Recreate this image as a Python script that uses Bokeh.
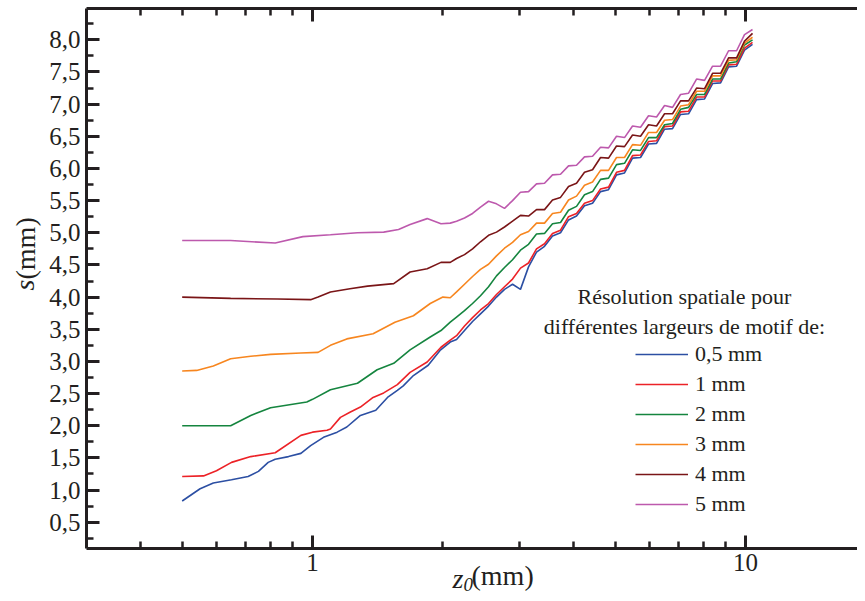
from bokeh.plotting import figure
from bokeh.models import (LogAxis, FixedTicker, SingleIntervalTicker, Title,
                          CustomJSTickFormatter, Label, Legend, LegendItem, Range1d)
from bokeh.embed import file_html
from bokeh.resources import INLINE

FONT = "Liberation Serif"
INK = "#231f20"

# ---------------- data ----------------
series_labels = ["0,5 mm", "1 mm", "2 mm", "3 mm", "4 mm", "5 mm"]
series_colors = ["#2c4fa3", "#ec2227", "#15853f", "#f7861f", "#7a1517", "#bd59ad"]

# common z0 grid for the oscillating upper part of every curve (mm)
z_upper = [2.151, 2.244, 2.342, 2.443, 2.550, 2.660, 2.776, 2.897, 3.022, 3.154,
           3.291, 3.434, 3.583, 3.739, 3.902, 4.071, 4.248, 4.433, 4.626, 4.827,
           5.036, 5.255, 5.484, 5.722, 5.971, 6.231, 6.502, 6.784, 7.079, 7.387,
           7.708, 8.043, 8.393, 8.758, 9.139, 9.536, 9.947, 10.38]

# 0,5 mm
z_lower_05 = [0.50, 0.55, 0.59, 0.65, 0.71, 0.75, 0.79, 0.82, 0.88, 0.94, 0.99, 1.06,
              1.14, 1.20, 1.29, 1.40, 1.49, 1.57, 1.62, 1.71, 1.85, 1.97, 2.08]
s_lower_05 = [0.83, 1.02, 1.11, 1.16, 1.21, 1.29, 1.43, 1.48, 1.52, 1.57, 1.69, 1.82,
              1.90, 1.98, 2.16, 2.24, 2.44, 2.55, 2.62, 2.78, 2.94, 3.17, 3.30]
s_upper_05 = [3.34, 3.48, 3.62, 3.74, 3.86, 4.00, 4.12, 4.20, 4.12, 4.47, 4.70, 4.79,
              4.95, 5.00, 5.20, 5.26, 5.42, 5.46, 5.64, 5.67, 5.90, 5.93, 6.16, 6.17,
              6.38, 6.39, 6.61, 6.62, 6.84, 6.85, 7.07, 7.08, 7.32, 7.33, 7.58, 7.59,
              7.84, 7.93]

# 1 mm
z_lower_1 = [0.50, 0.56, 0.60, 0.65, 0.72, 0.82, 0.94, 1.00, 1.08, 1.10, 1.16, 1.22,
             1.29, 1.38, 1.46, 1.57, 1.68, 1.84, 1.98, 2.08]
s_lower_1 = [1.21, 1.22, 1.30, 1.43, 1.52, 1.58, 1.85, 1.90, 1.93, 1.95, 2.13, 2.21,
             2.29, 2.44, 2.51, 2.64, 2.83, 2.99, 3.22, 3.33]
s_upper_1 = [3.40, 3.55, 3.68, 3.80, 3.90, 4.04, 4.16, 4.28, 4.45, 4.53, 4.75, 4.83,
             4.99, 5.04, 5.25, 5.30, 5.46, 5.50, 5.68, 5.71, 5.94, 5.97, 6.20, 6.21,
             6.42, 6.43, 6.65, 6.66, 6.88, 6.89, 7.11, 7.11, 7.36, 7.36, 7.61, 7.62,
             7.87, 7.96]

# 2 mm
z_lower_2 = [0.50, 0.647, 0.72, 0.80, 0.97, 1.00, 1.10, 1.27, 1.41, 1.54, 1.68, 1.87,
             1.98, 2.08]
s_lower_2 = [2.00, 2.00, 2.16, 2.28, 2.37, 2.41, 2.56, 2.66, 2.87, 2.97, 3.18, 3.38,
             3.48, 3.61]
s_upper_2 = [3.69, 3.79, 3.90, 4.02, 4.16, 4.33, 4.46, 4.58, 4.73, 4.82, 4.98, 4.99,
             5.14, 5.16, 5.35, 5.41, 5.59, 5.64, 5.83, 5.85, 6.06, 6.08, 6.29, 6.28,
             6.48, 6.48, 6.68, 6.70, 6.92, 6.95, 7.15, 7.15, 7.39, 7.39, 7.64, 7.66,
             7.92, 8.00]

# 3 mm
z_lower_3 = [0.50, 0.54, 0.59, 0.647, 0.72, 0.80, 0.94, 1.03, 1.10, 1.20, 1.38, 1.55,
             1.71, 1.87, 2.00, 2.08]
s_lower_3 = [2.85, 2.86, 2.93, 3.04, 3.08, 3.11, 3.13, 3.14, 3.25, 3.35, 3.43, 3.61,
             3.71, 3.90, 4.00, 3.99]
s_upper_3 = [4.08, 4.20, 4.32, 4.43, 4.51, 4.64, 4.76, 4.85, 4.97, 5.02, 5.15, 5.15,
             5.30, 5.32, 5.51, 5.57, 5.74, 5.79, 5.97, 5.97, 6.17, 6.17, 6.37, 6.36,
             6.56, 6.56, 6.75, 6.76, 6.97, 6.99, 7.20, 7.20, 7.44, 7.44, 7.68, 7.69,
             7.95, 8.04]

# 4 mm
z_lower_4 = [0.50, 0.647, 0.83, 0.99, 1.03, 1.10, 1.22, 1.34, 1.54, 1.68, 1.84, 1.98, 2.08]
s_lower_4 = [4.00, 3.98, 3.97, 3.96, 4.00, 4.08, 4.13, 4.17, 4.21, 4.39, 4.44, 4.54, 4.54]
s_upper_4 = [4.60, 4.66, 4.75, 4.86, 4.96, 5.01, 5.09, 5.18, 5.27, 5.26, 5.36, 5.36,
             5.51, 5.55, 5.72, 5.77, 5.94, 5.98, 6.17, 6.16, 6.35, 6.34, 6.52, 6.50,
             6.68, 6.66, 6.85, 6.85, 7.05, 7.05, 7.25, 7.24, 7.48, 7.48, 7.72, 7.72,
             7.98, 8.10]

# 5 mm
z_lower_5 = [0.50, 0.647, 0.82, 0.95, 1.10, 1.27, 1.46, 1.58, 1.68, 1.84, 1.98, 2.08]
s_lower_5 = [4.88, 4.88, 4.84, 4.94, 4.97, 5.00, 5.01, 5.05, 5.13, 5.22, 5.14, 5.15]
s_upper_5 = [5.18, 5.23, 5.30, 5.40, 5.49, 5.45, 5.38, 5.50, 5.63, 5.64, 5.76, 5.77,
             5.90, 5.91, 6.04, 6.05, 6.18, 6.19, 6.33, 6.32, 6.50, 6.48, 6.66, 6.64,
             6.82, 6.80, 6.98, 6.95, 7.15, 7.17, 7.39, 7.37, 7.59, 7.59, 7.83, 7.83,
             8.08, 8.16]

x_major_ticks = [1, 10]
x_minor_ticks = [0.4, 0.5, 0.6, 0.7, 0.8, 0.9, 2, 3, 4, 5, 6, 7, 8, 9, 20]
y_tick_step = 0.5

legend_title = ["Résolution spatiale pour", "différentes largeurs de motif de:"]

series_z = [z_lower_05 + z_upper, z_lower_1 + z_upper, z_lower_2 + z_upper,
            z_lower_3 + z_upper, z_lower_4 + z_upper, z_lower_5 + z_upper]
series_s = [s_lower_05 + s_upper_05, s_lower_1 + s_upper_1, s_lower_2 + s_upper_2,
            s_lower_3 + s_upper_3, s_lower_4 + s_upper_4, s_lower_5 + s_upper_5]

# ---------------- figure ----------------
p = figure(width=857, height=593, x_axis_type="log",
           x_range=Range1d(0.3006, 18.14), y_range=Range1d(0.091, 8.487),
           output_backend="svg", toolbar_location=None,
           min_border_left=86, min_border_right=0, min_border_top=8, min_border_bottom=45,
           background_fill_color="white", border_fill_color="white")
p.outline_line_color = None
p.grid.visible = False


def style_axis(ax):
    ax.axis_line_color = INK
    ax.axis_line_width = 3
    ax.major_tick_in = 13
    ax.major_tick_out = 0
    ax.minor_tick_in = 7
    ax.minor_tick_out = 0
    ax.major_tick_line_color = INK
    ax.major_tick_line_width = 3
    ax.minor_tick_line_color = INK
    ax.minor_tick_line_width = 2.5
    ax.major_label_text_font = FONT
    ax.major_label_text_font_size = "25px"
    ax.major_label_text_color = INK


xticker = FixedTicker(ticks=x_major_ticks, minor_ticks=x_minor_ticks)
yticker = SingleIntervalTicker(interval=y_tick_step, num_minor_ticks=2)

xa = p.xaxis[0]
xa.ticker = xticker
xa.formatter = CustomJSTickFormatter(code="return tick.toString();")
style_axis(xa)
xa.major_label_standoff = 5

ya = p.yaxis[0]
ya.ticker = yticker
ya.formatter = CustomJSTickFormatter(code="return tick.toFixed(1).replace('.', ',');")
style_axis(ya)
ya.major_label_standoff = 6

top = LogAxis(ticker=xticker, formatter=CustomJSTickFormatter(code="return '';"))
style_axis(top)
top.major_label_text_font_size = "0px"
top.major_label_standoff = 0
p.add_layout(top, "above")

renderers = []
for z, s, c in zip(series_z, series_s, series_colors):
    r = p.line(z, s, line_color=c, line_width=1.6)
    renderers.append(r)

legend = Legend(items=[LegendItem(label=l, renderers=[r]) for l, r in zip(series_labels, renderers)],
                location=(549, 29), border_line_color=None, background_fill_alpha=0,
                padding=0, margin=0, spacing=0, glyph_width=53, glyph_height=30,
                label_height=30, label_standoff=7, label_text_font=FONT,
                label_text_font_size="22px", label_text_color=INK)
p.add_layout(legend)

for i, t in enumerate(legend_title):
    p.add_layout(Label(x=598, y=252 - 30 * i, x_units="screen", y_units="screen", text=t,
                       text_font=FONT, text_font_size="22px", text_color=INK,
                       text_align="center", text_baseline="alphabetic"))


# ---- axis titles with mixed styles: z0(mm) below, s(mm) on the left ----
def title(text, size, style, offset, standoff, valign):
    return Title(text=text, align="left", offset=offset, standoff=standoff,
                 vertical_align=valign, text_font=FONT, text_font_size=size,
                 text_font_style=style, text_color=INK)


p.add_layout(title("z", "28px", "italic", 366, -21, "top"), "below")
p.add_layout(title("0", "19px", "italic", 377, -16, "top"), "below")
p.add_layout(title("(mm)", "28px", "normal", 385, -51, "top"), "below")

p.add_layout(title("s", "28px", "italic", 258, 13, "bottom"), "left")
p.add_layout(title("(mm)", "28px", "normal", 269, -80, "bottom"), "left")

open("out.html", "w").write(file_html(p, INLINE))
